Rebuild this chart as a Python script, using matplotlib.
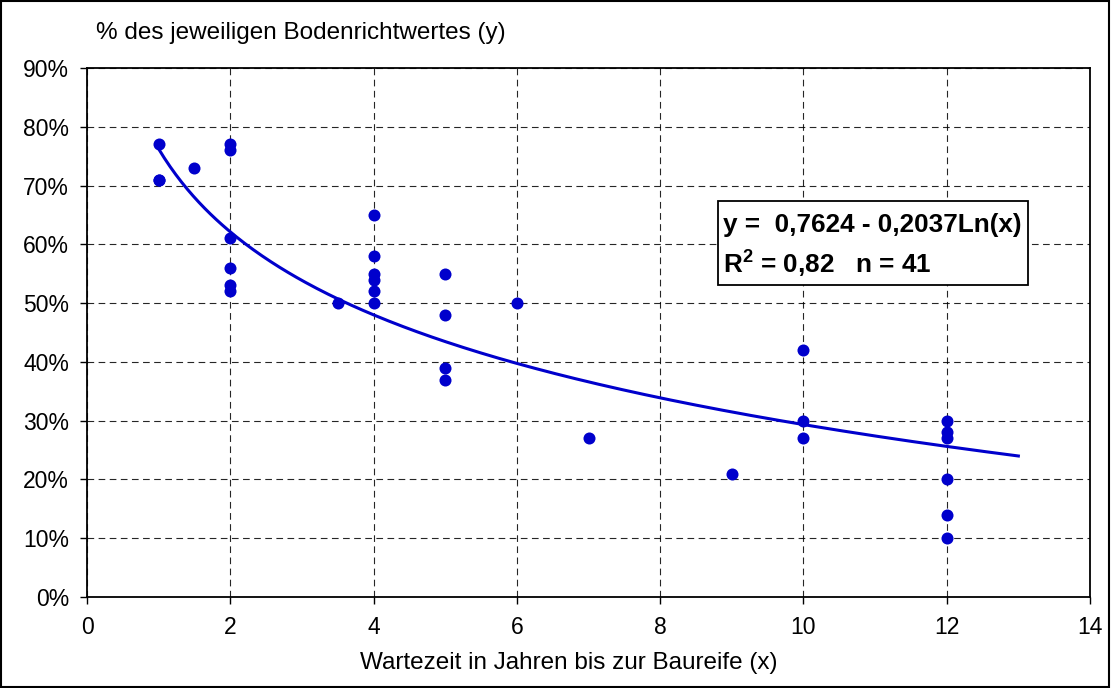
import numpy as np
import matplotlib
matplotlib.use("Agg")
import matplotlib.pyplot as plt
from matplotlib.patches import Rectangle

plt.rcParams['font.family'] = ['Liberation Sans', 'DejaVu Sans']
plt.rcParams['mathtext.fontset'] = 'custom'
plt.rcParams['mathtext.rm'] = 'Liberation Sans'
plt.rcParams['mathtext.bf'] = 'Liberation Sans:bold'

# Data (years until building maturity, % of land value)
x_vals = [1, 1, 1, 1.5,
          2, 2, 2, 2, 2, 2,
          3.5,
          4, 4, 4, 4, 4, 4,
          5, 5, 5, 5,
          6, 7, 9,
          10, 10, 10,
          12, 12, 12, 12, 12, 12]
y_vals = [0.77, 0.71, 0.71, 0.73,
          0.77, 0.76, 0.61, 0.56, 0.53, 0.52,
          0.50,
          0.65, 0.58, 0.55, 0.54, 0.52, 0.50,
          0.55, 0.48, 0.39, 0.37,
          0.50, 0.27, 0.21,
          0.42, 0.30, 0.27,
          0.30, 0.28, 0.27, 0.20, 0.14, 0.10]

fit_a = 0.7624
fit_b = 0.2037
fit_x_range = [1, 13]

x_ticks = [0, 2, 4, 6, 8, 10, 12, 14]
y_ticks = [0, 0.1, 0.2, 0.3, 0.4, 0.5, 0.6, 0.7, 0.8, 0.9]
y_ticklabels = ['0%', '10%', '20%', '30%', '40%', '50%', '60%', '70%', '80%', '90%']

blue = '#0000CC'

fig = plt.figure(figsize=(11.11, 6.88), dpi=100)
ax = fig.add_axes([87/1111, 91/688, (1090-87)/1111, (597-68)/688])

xf = np.linspace(fit_x_range[0], fit_x_range[1], 300)
ax.plot(xf, fit_a - fit_b*np.log(xf), color=blue, lw=2.2, zorder=3)
ax.scatter(x_vals, y_vals, s=75, color=blue, zorder=4, linewidths=0)

ax.set_xlim(0, 14)
ax.set_ylim(0, 0.9)
ax.set_xticks(x_ticks)
ax.set_yticks(y_ticks)
ax.set_yticklabels(y_ticklabels)
ax.tick_params(axis='both', direction='out', length=5, width=1, labelsize=16.5, colors='black')
ax.tick_params(axis='x', pad=9)
ax.tick_params(axis='y', pad=8)
ax.grid(True, color='black', linestyle=(0, (6, 4)), lw=0.8, alpha=0.85)
for s in ax.spines.values():
    s.set_color('black')
    s.set_linewidth(1.3)

fig.text(96/1111, 1 - 33/688, '% des jeweiligen Bodenrichtwertes (y)', fontsize=17.5,
         ha='left', va='center')
fig.text(569/1111, 1 - 663/688, 'Wartezeit in Jahren bis zur Baureife (x)', fontsize=17.5,
         ha='center', va='center')

# Equation box
bx0, by0, bx1, by1 = 718, 201, 1028, 285
fig.patches.append(Rectangle((bx0/1111, 1 - by1/688), (bx1-bx0)/1111, (by1-by0)/688,
                             transform=fig.transFigure, facecolor='white',
                             edgecolor='black', lw=1.3, zorder=5))
fig.text(723/1111, 1 - 225/688, 'y =  0,7624 - 0,2037Ln(x)', fontsize=18.8,
         fontweight='bold', ha='left', va='center', zorder=6)
fig.text(723/1111, 1 - 263/688, r'R$^{\mathbf{2}}$ = 0,82   n = 41', fontsize=18.8,
         fontweight='bold', ha='left', va='center', zorder=6)

# Outer border
fig.patches.append(Rectangle((0.001, 0.001), 0.997, 0.997, transform=fig.transFigure,
                             facecolor='none', edgecolor='black', lw=1.5, zorder=10))

fig.savefig('out.png', dpi=100)
